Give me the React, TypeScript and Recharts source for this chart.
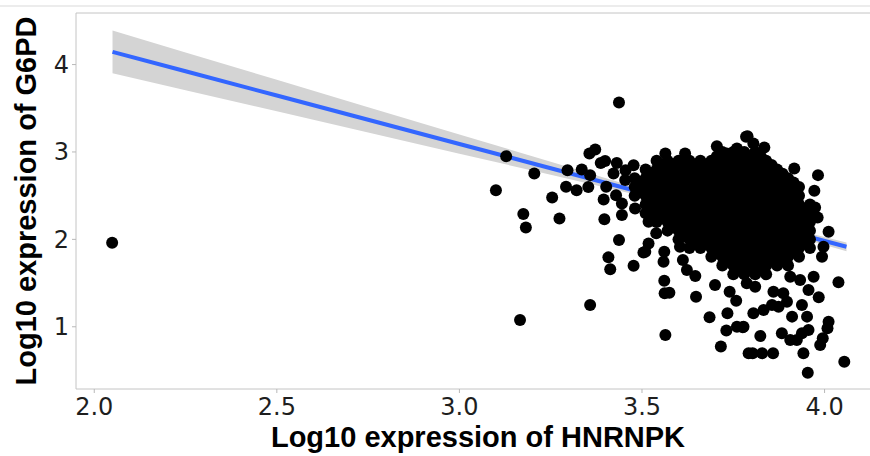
import React from 'react';
import { ComposedChart, XAxis, YAxis, Area, Line, Scatter, ReferenceArea } from 'recharts';

// axis ticks
const xTicks = [2, 2.5, 3, 3.5, 4];
const yTicks = [1, 2, 3, 4];

// linear fit + confidence band
const fitX = [2.05, 2.25, 2.5, 2.75, 3.0, 3.25, 3.5, 3.75, 4.06];
const fitY = [4.145, 3.923, 3.646, 3.368, 3.091, 2.814, 2.536, 2.259, 1.915];
const bandLo = [3.9, 3.707, 3.466, 3.223, 2.981, 2.739, 2.496, 2.234, 1.865];
const bandHi = [4.39, 4.139, 3.826, 3.513, 3.201, 2.889, 2.576, 2.284, 1.965];

// scattered points outside the dense core
const loosePoints: [number, number][] = [
  [2.049, 1.96], [3.437, 3.566], [3.128, 2.952], [3.205, 2.754], [3.1, 2.563],
  [3.254, 2.48], [3.175, 2.289], [3.182, 2.137], [3.274, 2.24], [3.166, 1.078],
  [3.358, 1.249], [3.296, 2.792], [3.292, 2.601], [3.321, 2.563], [3.335, 2.8],
  [3.358, 2.735], [3.353, 2.6], [3.356, 2.983], [3.372, 3.029], [3.387, 2.875],
  [3.399, 2.898], [3.431, 2.875], [3.422, 2.754], [3.402, 2.601], [3.395, 2.457],
  [3.429, 2.506], [3.445, 2.411], [3.445, 2.278], [3.397, 2.229], [3.437, 1.992],
  [3.408, 1.794], [3.413, 1.657], [3.477, 1.698], [3.504, 1.851], [3.518, 2.201],
  [3.481, 2.354], [3.455, 2.792], [3.477, 2.849], [3.454, 2.678],
  [3.564, 0.906], [3.562, 1.383], [3.575, 1.39], [3.561, 1.527], [3.559, 1.744],
  [3.561, 1.858], [3.509, 1.858], [3.518, 1.954], [3.539, 2.069], [3.527, 2.24],
  [3.612, 1.763], [3.623, 1.649], [3.646, 1.58], [3.648, 1.344], [3.685, 1.108],
  [3.7, 1.478], [3.716, 0.773], [3.731, 0.956], [3.734, 1.154], [3.76, 1.001],
  [3.776, 0.994], [3.74, 1.401], [3.758, 1.298], [3.792, 0.697], [3.604, 1.915],
  [3.564, 2.983], [3.618, 2.983], [3.705, 3.066], [3.732, 2.983], [3.76, 3.04],
  [3.785, 3.173], [3.789, 3.18], [3.805, 3.097], [3.835, 3.051], [3.917, 2.811],
  [3.982, 2.735], [3.972, 2.555], [3.974, 2.365], [3.981, 2.251], [4.011, 2.087],
  [4.038, 1.509], [4.054, 0.601], [3.954, 0.475], [3.942, 0.697], [3.988, 0.792],
  [3.995, 0.869], [4.008, 0.983], [4.011, 1.058], [3.803, 0.697], [3.829, 0.697],
  [3.859, 0.697], [3.824, 0.895], [3.778, 1.001], [3.805, 1.154], [3.833, 1.192],
  [3.856, 1.249], [3.883, 0.926], [3.906, 0.849], [3.924, 0.849], [3.956, 0.963],
  [3.938, 0.926], [3.911, 1.116], [3.897, 1.287], [3.952, 1.116], [3.938, 1.249],
  [3.874, 1.23], [3.86, 1.401], [3.887, 1.383], [3.81, 1.458], [3.787, 1.497],
  [3.956, 1.42], [3.984, 1.337], [3.97, 1.573], [3.993, 1.801], [3.997, 1.915],
  [3.933, 1.535], [3.906, 1.573],
];

// dense core, read column by column
const coreColumns: { x: number; ys: number[] }[] = [
  { x: 3.48, ys: [2.5, 2.6, 2.7] },
  { x: 3.51, ys: [2.3, 2.4, 2.5, 2.6, 2.7, 2.8] },
  { x: 3.54, ys: [2.2, 2.3, 2.4, 2.5, 2.6, 2.7, 2.8, 2.9] },
  { x: 3.57, ys: [2.1, 2.2, 2.3, 2.4, 2.5, 2.6, 2.7, 2.8, 2.9] },
  { x: 3.6, ys: [2.0, 2.1, 2.2, 2.3, 2.4, 2.5, 2.6, 2.7, 2.8, 2.9] },
  { x: 3.63, ys: [1.9, 2.0, 2.1, 2.2, 2.3, 2.4, 2.5, 2.6, 2.7, 2.8, 2.9] },
  { x: 3.66, ys: [1.9, 2.0, 2.1, 2.2, 2.3, 2.4, 2.5, 2.6, 2.7, 2.8, 2.9] },
  { x: 3.69, ys: [1.8, 1.9, 2.0, 2.1, 2.2, 2.3, 2.4, 2.5, 2.6, 2.7, 2.8, 2.9] },
  { x: 3.72, ys: [1.7, 1.8, 1.9, 2.0, 2.1, 2.2, 2.3, 2.4, 2.5, 2.6, 2.7, 2.8, 2.9, 3.0] },
  { x: 3.75, ys: [1.6, 1.7, 1.8, 1.9, 2.0, 2.1, 2.2, 2.3, 2.4, 2.5, 2.6, 2.7, 2.8, 2.9, 3.0] },
  { x: 3.78, ys: [1.6, 1.7, 1.8, 1.9, 2.0, 2.1, 2.2, 2.3, 2.4, 2.5, 2.6, 2.7, 2.8, 2.9, 3.0] },
  { x: 3.81, ys: [1.6, 1.7, 1.8, 1.9, 2.0, 2.1, 2.2, 2.3, 2.4, 2.5, 2.6, 2.7, 2.8, 2.9, 3.0] },
  { x: 3.84, ys: [1.6, 1.7, 1.8, 1.9, 2.0, 2.1, 2.2, 2.3, 2.4, 2.5, 2.6, 2.7, 2.8, 2.9] },
  { x: 3.87, ys: [1.7, 1.8, 1.9, 2.0, 2.1, 2.2, 2.3, 2.4, 2.5, 2.6, 2.7, 2.8] },
  { x: 3.9, ys: [1.7, 1.8, 1.9, 2.0, 2.1, 2.2, 2.3, 2.4, 2.5, 2.6, 2.7] },
  { x: 3.93, ys: [1.8, 1.9, 2.0, 2.1, 2.2, 2.3, 2.4, 2.5, 2.6] },
  { x: 3.96, ys: [1.9, 2.0, 2.1, 2.2, 2.3, 2.4] },
];

// the in-between columns of the core
const coreColumnsB: { x: number; ys: number[] }[] = [
  { x: 3.495, ys: [2.55, 2.65] },
  { x: 3.525, ys: [2.35, 2.45, 2.55, 2.65, 2.75] },
  { x: 3.555, ys: [2.25, 2.35, 2.45, 2.55, 2.65, 2.75, 2.85] },
  { x: 3.585, ys: [2.15, 2.25, 2.35, 2.45, 2.55, 2.65, 2.75, 2.85] },
  { x: 3.615, ys: [2.05, 2.15, 2.25, 2.35, 2.45, 2.55, 2.65, 2.75, 2.85] },
  { x: 3.645, ys: [1.95, 2.05, 2.15, 2.25, 2.35, 2.45, 2.55, 2.65, 2.75, 2.85] },
  { x: 3.675, ys: [1.95, 2.05, 2.15, 2.25, 2.35, 2.45, 2.55, 2.65, 2.75, 2.85] },
  { x: 3.705, ys: [1.85, 1.95, 2.05, 2.15, 2.25, 2.35, 2.45, 2.55, 2.65, 2.75, 2.85, 2.95] },
  { x: 3.735, ys: [1.75, 1.85, 1.95, 2.05, 2.15, 2.25, 2.35, 2.45, 2.55, 2.65, 2.75, 2.85, 2.95] },
  { x: 3.765, ys: [1.65, 1.75, 1.85, 1.95, 2.05, 2.15, 2.25, 2.35, 2.45, 2.55, 2.65, 2.75, 2.85, 2.95] },
  { x: 3.795, ys: [1.65, 1.75, 1.85, 1.95, 2.05, 2.15, 2.25, 2.35, 2.45, 2.55, 2.65, 2.75, 2.85, 2.95] },
  { x: 3.825, ys: [1.65, 1.75, 1.85, 1.95, 2.05, 2.15, 2.25, 2.35, 2.45, 2.55, 2.65, 2.75, 2.85, 2.95] },
  { x: 3.855, ys: [1.75, 1.85, 1.95, 2.05, 2.15, 2.25, 2.35, 2.45, 2.55, 2.65, 2.75, 2.85] },
  { x: 3.885, ys: [1.75, 1.85, 1.95, 2.05, 2.15, 2.25, 2.35, 2.45, 2.55, 2.65, 2.75] },
  { x: 3.915, ys: [1.85, 1.95, 2.05, 2.15, 2.25, 2.35, 2.45, 2.55, 2.65] },
  { x: 3.945, ys: [1.95, 2.05, 2.15, 2.25, 2.35] },
];

const fitData = fitX.map((x, i) => ({ x, fit: fitY[i], band: [bandLo[i], bandHi[i]] }));

const points = [
  ...loosePoints.map(([x, y]) => ({ x, y })),
  ...coreColumns.flatMap((c) => c.ys.map((y) => ({ x: c.x, y }))),
  ...coreColumnsB.flatMap((c) => c.ys.map((y) => ({ x: c.x, y }))),
];

const tickFont = { fontSize: 24, fill: '#1e1e1e', fontFamily: 'DejaVu Sans' };
const titleFont = { fontSize: 29, fontWeight: 'bold', fill: '#000', fontFamily: 'Liberation Sans, Arial, sans-serif' };

const Dot = (p: any) => <circle cx={p.cx} cy={p.cy} r={6} fill='#000' />;

export default function App() {
  return (
    <div style={{ position: 'absolute', left: 0, top: 0, width: 870, height: 456, overflow: 'hidden', background: '#fff' }}>
      <div style={{ position: 'absolute', left: 0, top: 5, width: 870, height: 2, background: '#ececec' }} />
      <ComposedChart width={890} height={456} data={fitData} margin={{ top: 13, right: 7, left: 0, bottom: 0 }}>
        <XAxis
          type='number'
          dataKey='x'
          domain={[1.95, 4.16]}
          allowDataOverflow
          ticks={xTicks}
          interval={0}
          tickFormatter={(v: number) => v.toFixed(1)}
          height={67}
          tickSize={4}
          tickMargin={5}
          axisLine={false}
          tickLine={{ stroke: '#b8b8b8' }}
          tick={tickFont}
        />
        <YAxis
          type='number'
          domain={[0.288, 4.59]}
          allowDataOverflow
          ticks={yTicks}
          interval={0}
          width={76}
          tickSize={4}
          tickMargin={3}
          axisLine={false}
          tickLine={{ stroke: '#b8b8b8' }}
          tick={tickFont}
        />
        <ReferenceArea x1={1.95} x2={4.16} y1={0.288} y2={4.59} fill='none' stroke='#c4c4c4' strokeWidth={1} />
        <Area dataKey='band' stroke='none' fill='#d4d4d4' fillOpacity={1} isAnimationActive={false} type='linear' />
        <Line dataKey='fit' stroke='#3366ff' strokeWidth={4} dot={false} isAnimationActive={false} type='linear' />
        <Scatter data={points} dataKey='y' shape={Dot} isAnimationActive={false} />
      </ComposedChart>
      <svg width={870} height={456} style={{ position: 'absolute', left: 0, top: 0, pointerEvents: 'none' }}>
        <text x={478} y={447} textAnchor='middle' {...titleFont}>Log10 expression of HNRNPK</text>
        <text transform='translate(36,201) rotate(-90)' textAnchor='middle' {...titleFont}>Log10 expression of G6PD</text>
      </svg>
    </div>
  );
}
